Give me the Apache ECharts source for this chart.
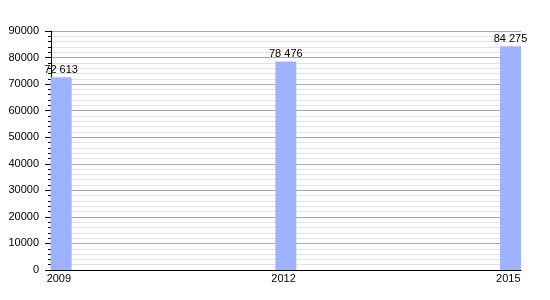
<!DOCTYPE html>
<html>
<head>
<meta charset="utf-8">
<script src="https://cdn.jsdelivr.net/npm/echarts@6/dist/echarts.min.js"></script>
<style>html,body{margin:0;padding:0;background:#fff}#c{width:550px;height:300px}</style>
</head>
<body>
<div id="c"></div>
<script>
var years = [2009, 2012, 2015];
var values = [72613, 78476, 84275];
var yTicks = [0, 10000, 20000, 30000, 40000, 50000, 60000, 70000, 80000, 90000];

function fmt(v) { return String(v).replace(/\B(?=(\d{3})+(?!\d))/g, ' '); }

var chart = echarts.init(document.getElementById('c'), null, {renderer: 'canvas'});
chart.setOption({
  animation: false,
  backgroundColor: '#fff',
  textStyle: {fontFamily: 'Liberation Sans, Arial, sans-serif'},
  grid: {left: 51, right: 29, top: 31, bottom: 30, containLabel: false},
  xAxis: {
    type: 'value',
    min: 2008.865,
    max: 2015.14,
    axisLine: {show: true, onZero: false, lineStyle: {color: '#000', width: 1}},
    axisTick: {show: false},
    splitLine: {show: false},
    axisLabel: {
      customValues: years.map(function (y) { return y - 0.03; }),
      color: '#000', fontSize: 11, margin: 3,
      fontFamily: 'Liberation Sans, Arial, sans-serif',
      formatter: function (v) { return String(Math.round(v)); }
    }
  },
  yAxis: {
    type: 'value',
    min: yTicks[0],
    max: yTicks[yTicks.length - 1],
    interval: 10000,
    axisLine: {show: true, lineStyle: {color: '#000', width: 1}},
    axisTick: {show: true, length: 6, lineStyle: {color: '#000'}},
    minorTick: {show: true, splitNumber: 5, length: 3, lineStyle: {color: '#000'}},
    splitLine: {show: true, lineStyle: {color: '#a8a8a8', width: 1}},
    minorSplitLine: {show: true, lineStyle: {color: '#e2e2e2', width: 1}},
    axisLabel: {color: '#000', fontSize: 11, margin: 12,
      fontFamily: 'Liberation Sans, Arial, sans-serif',
      formatter: function (v) { return String(v); }}
  },
  series: [{
    type: 'bar',
    data: years.map(function (y, i) { return [y, values[i]]; }),
    barWidth: 21,
    itemStyle: {color: '#9db3fe'},
    label: {
      show: true, position: 'top', distance: 2,
      color: '#000', fontSize: 11,
      fontFamily: 'Liberation Sans, Arial, sans-serif',
      formatter: function (p) { return fmt(p.value[1]); }
    }
  }]
});
</script>
</body>
</html>
